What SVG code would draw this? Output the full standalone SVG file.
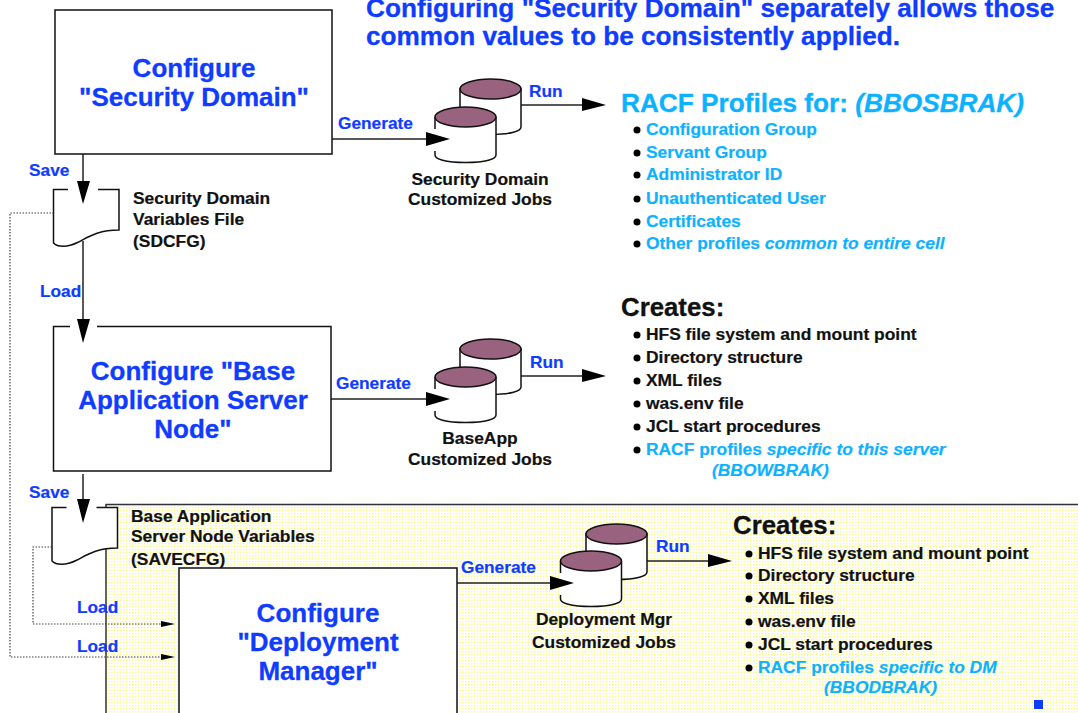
<svg xmlns="http://www.w3.org/2000/svg" width="1078" height="713" viewBox="0 0 1078 713">
<style>
text{font-family:"Liberation Sans",Arial,sans-serif;font-weight:bold}
.t{font-size:26px;fill:#0f3cff;stroke:#0f3cff;stroke-width:.3px;text-anchor:middle}
.b{font-size:17.300px;fill:#0f3cff;stroke:#0f3cff;stroke-width:.2px}
.k{font-size:17.400px;fill:#111;stroke:#111;stroke-width:.2px}
.kc{font-size:17.400px;fill:#111;stroke:#111;stroke-width:.2px;text-anchor:middle}
.h{font-size:25.800px;fill:#111;stroke:#111;stroke-width:.3px}
.c{font-size:17.400px;fill:#0db2ff;stroke:#0db2ff;stroke-width:.2px}
.ti{font-size:26.200px;fill:#0f3cff;stroke:#0f3cff;stroke-width:.3px}
.r{font-size:26.200px;fill:#0db2ff;stroke:#0db2ff;stroke-width:.3px}
.ci{font-style:italic}
.box{fill:#fff;stroke:#111;stroke-width:1.5}
.ln{fill:none;stroke:#222;stroke-width:1.5}
.dot{fill:none;stroke:#444;stroke-width:1.2;stroke-dasharray:1.5 1.5}
.ah{fill:#000}
.bul{fill:#000}
</style>
<defs>
<pattern id="yel" width="3" height="3" patternUnits="userSpaceOnUse">
<rect width="3" height="3" fill="#fff"/>
<rect width="1.500" height="1.500" fill="#fbfb8c"/>
</pattern>
<g id="cyl">
<path d="M0 0V38C0 42 10 45.500 30.500 45.500S61 42 61 38V0Z" fill="#fff" stroke="#111" stroke-width="1.500"/>
<ellipse cx="30.500" cy="0" rx="30.500" ry="10" fill="#99627e" stroke="#111" stroke-width="1.500"/>
</g>
<g id="cylf">
<path d="M0 0V38C0 42 10 45.500 30.500 45.500S61 42 61 38V0Z" fill="#fff"/>
<path d="M0 0V12M0 34V38C0 42 10 45.500 30.500 45.500S61 42 61 38V0" fill="none" stroke="#111" stroke-width="1.500"/>
<ellipse cx="30.500" cy="0" rx="30.500" ry="10" fill="#99627e" stroke="#111" stroke-width="1.500"/>
</g>
<path id="doc" d="M0 0V53.500C4 58 14 58 24 53C34 48 44 40.500 65.500 40.500V0Z" fill="#fff"/>
<path id="docl" d="M14.500 0H0V53.500C4 58 14 58 24 53C34 48 44 40.500 65.500 40.500V0H44.500" fill="none" stroke="#111" stroke-width="1.500"/>
</defs>
<rect width="1078" height="713" fill="#fff"/>
<g id="panel"><path d="M106 713V504.500H1078V713Z" fill="url(#yel)"/><path d="M106 713V504.500H1078" fill="none" stroke="#333" stroke-width="1.500"/></g>

<g id="title"><text class="ti" x="366" y="16.500">Configuring "Security Domain" separately allows those</text><text class="ti" x="366" y="45">common values to be consistently applied.</text></g>

<g id="connectors">
<path class="dot" d="M54 213H10V657H165"/>
<path class="dot" d="M52 547H33V624H165"/>
<path class="ln" d="M83 154V190"/>
<path class="ln" d="M332 139H436M521 105H590M331 399H436M521 376H590M456 583H560M647 561H715"/>
</g>

<g id="node-security-domain"><rect class="box" x="55" y="10" width="277" height="144"/><text class="t" x="194" y="77">Configure</text><text class="t" x="194" y="106">"Security Domain"</text></g>
<g id="node-sd-file"><use href="#doc" x="53.500" y="189.500"/><use href="#docl" x="53.500" y="189.500"/><path class="ln" d="M83 241V330"/><text class="k" x="133" y="204">Security Domain</text><text class="k" x="133" y="225">Variables File</text><text class="k" x="133" y="247">(SDCFG)</text></g>
<g id="node-sd-jobs"><use href="#cyl" x="460" y="89"/><use href="#cylf" x="435" y="117"/><text class="kc" x="480" y="185">Security Domain</text><text class="kc" x="480" y="205">Customized Jobs</text></g>

<g id="node-base-app"><path class="box" d="M70 326.500H53.500V471H331V326.500H97"/><text class="t" x="193" y="380">Configure "Base</text><text class="t" x="193" y="409">Application Server</text><text class="t" x="193" y="438">Node"</text></g>
<g id="node-base-file"><use href="#doc" x="52" y="507.500"/><use href="#docl" x="52" y="507.500"/><path class="ln" d="M83 474V510"/><text class="k" x="131" y="522">Base Application</text><text class="k" x="131" y="542">Server Node Variables</text><text class="k" x="131" y="565">(SAVECFG)</text></g>
<g id="node-base-jobs"><use href="#cyl" x="460" y="349"/><use href="#cylf" x="435" y="377"/><text class="kc" x="480" y="444">BaseApp</text><text class="kc" x="480" y="465">Customized Jobs</text></g>

<g id="node-dm"><path d="M179 713V568H457V713" fill="#fff" stroke="#111" stroke-width="1.500"/><text class="t" x="318" y="622">Configure</text><text class="t" x="318" y="651">"Deployment</text><text class="t" x="318" y="680">Manager"</text></g>
<g id="node-dm-jobs"><use href="#cyl" x="586" y="534"/><use href="#cylf" x="560.500" y="561"/><text class="kc" x="604" y="625">Deployment Mgr</text><text class="kc" x="604" y="648">Customized Jobs</text></g>

<g id="arrowheads">
<path class="ah" d="M77 181H90L83 204ZM77 319H90L83 343ZM77 499H90L83 523Z"/>
<path class="ah" d="M426 132V146L450 139ZM582 98V111L606 105ZM426 392V406L450 399ZM582 369V382L606 376ZM550 576V590L574 583ZM708 554V567L732 561Z"/>
<path class="ah" d="M161 621V627L175 624ZM161 654V660L175 657Z"/>
</g>

<g id="labels">
<text class="b" x="29" y="176">Save</text><text class="b" x="40" y="297">Load</text><text class="b" x="29" y="498">Save</text>
<text class="b" x="77" y="613">Load</text><text class="b" x="77" y="652">Load</text>
<text class="b" x="338" y="129">Generate</text><text class="b" x="529" y="97">Run</text>
<text class="b" x="336" y="388.500">Generate</text><text class="b" x="530" y="368">Run</text>
<text class="b" x="461" y="573">Generate</text><text class="b" x="656" y="552">Run</text>
</g>

<g id="list-racf">
<text class="r" x="621" y="112">RACF Profiles for: <tspan class="ci">(BBOSBRAK)</tspan></text>
<text class="c" x="646" y="135">Configuration Group</text><circle class="bul" cx="637" cy="130" r="3.500"/>
<text class="c" x="646" y="158">Servant Group</text><circle class="bul" cx="637" cy="153" r="3.500"/>
<text class="c" x="646" y="180">Administrator ID</text><circle class="bul" cx="637" cy="175" r="3.500"/>
<text class="c" x="646" y="204">Unauthenticated User</text><circle class="bul" cx="637" cy="199" r="3.500"/>
<text class="c" x="646" y="227">Certificates</text><circle class="bul" cx="637" cy="222" r="3.500"/>
<text class="c" x="646" y="249">Other profiles <tspan class="ci">common to entire cell</tspan></text><circle class="bul" cx="637" cy="244" r="3.500"/>
</g>

<g id="list-base">
<text class="h" x="621" y="316">Creates:</text>
<text class="k" x="646" y="340">HFS file system and mount point</text><circle class="bul" cx="637" cy="335" r="3.500"/>
<text class="k" x="646" y="363">Directory structure</text><circle class="bul" cx="637" cy="358" r="3.500"/>
<text class="k" x="646" y="386">XML files</text><circle class="bul" cx="637" cy="381" r="3.500"/>
<text class="k" x="646" y="409">was.env file</text><circle class="bul" cx="637" cy="404" r="3.500"/>
<text class="k" x="646" y="432">JCL start procedures</text><circle class="bul" cx="637" cy="427" r="3.500"/>
<text class="c" x="646" y="455">RACF profiles <tspan class="ci">specific to this server</tspan></text><circle class="bul" cx="637" cy="450" r="3.500"/>
<text class="c ci" x="712" y="476">(BBOWBRAK)</text>
</g>

<g id="list-dm">
<text class="h" x="733" y="534">Creates:</text>
<text class="k" x="758" y="559">HFS file system and mount point</text><circle class="bul" cx="749" cy="554" r="3.500"/>
<text class="k" x="758" y="581">Directory structure</text><circle class="bul" cx="749" cy="576" r="3.500"/>
<text class="k" x="758" y="604">XML files</text><circle class="bul" cx="749" cy="599" r="3.500"/>
<text class="k" x="758" y="627">was.env file</text><circle class="bul" cx="749" cy="622" r="3.500"/>
<text class="k" x="758" y="650">JCL start procedures</text><circle class="bul" cx="749" cy="645" r="3.500"/>
<text class="c" x="758" y="673">RACF profiles <tspan class="ci">specific to DM</tspan></text><circle class="bul" cx="749" cy="668" r="3.500"/>
<text class="c ci" x="824" y="693">(BBODBRAK)</text>
</g>
<rect id="end-mark" x="1034" y="700" width="9" height="9" fill="#0f3cff"/>
</svg>
